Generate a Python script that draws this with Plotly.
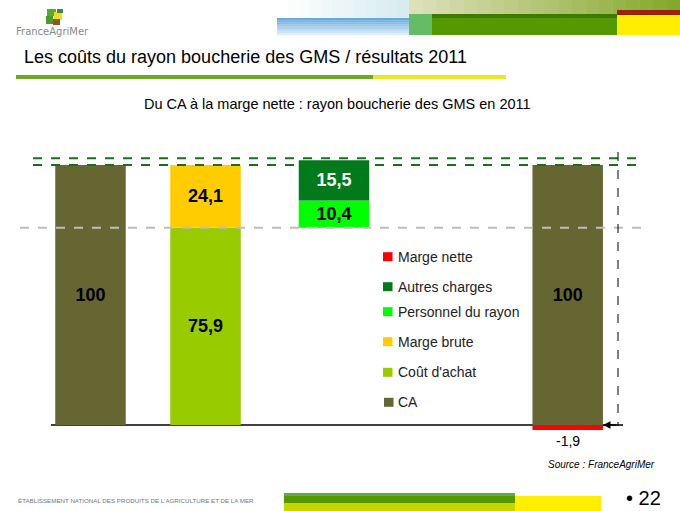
import plotly.graph_objects as go

W, H = 680, 511

# ---------------- data ----------------
slots = ["CA", "Achat", "Charges", "Légende", "Résultat"]   # 4th slot holds the legend

ca_x = ["CA", "Résultat"]
ca_y = [100, 100]
achat_x = ["Achat"]
achat_y = [75.9]
marge_brute_y = [24.1]
charges_x = ["Charges"]
personnel_y = [10.4]
autres_y = [15.5]
resultat_x = ["Résultat"]
marge_nette_y = [-1.9]

series_names = ["CA", "Coût d'achat", "Marge brute", "Personnel du rayon", "Autres charges", "Marge nette"]
series_colors = ["#666633", "#99CC00", "#FFCC00", "#00FF00", "#007A1A", "#FF0000"]

# ---------------- helpers (pixel -> paper) ----------------
def X(p):
    return p / W

def Y(p):
    return 1 - p / H

# bar geometry (category units)
BW = 0.591
OFF_ACHAT = -BW / 2 - 0.036
OFF_CHARGES = -BW / 2 + 0.041

fig = go.Figure()

label_font = dict(family="Liberation Sans, Arial, sans-serif", size=18, color="black")
common = dict(textposition="inside", insidetextanchor="middle", marker_line_width=0)

# invisible base for the charges bar (starts at purchase cost level)
fig.add_trace(go.Bar(x=charges_x, y=achat_y, width=BW, offset=OFF_CHARGES,
                     marker=dict(color="rgba(255,255,255,0)", line=dict(width=0)),
                     opacity=0, showlegend=False, hoverinfo="skip"))
fig.add_trace(go.Bar(x=ca_x, y=ca_y, name=series_names[0], marker_color=series_colors[0], width=BW,
                     texttemplate="<b>%{y:.0f}</b>", textfont=label_font, **common))
fig.add_trace(go.Bar(x=achat_x, y=achat_y, name=series_names[1], marker_color=series_colors[1],
                     width=BW, offset=OFF_ACHAT,
                     texttemplate="<b>%{y:.1f}</b>", textfont=label_font, **common))
fig.add_trace(go.Bar(x=achat_x, y=marge_brute_y, name=series_names[2], marker_color=series_colors[2],
                     width=BW, offset=OFF_ACHAT,
                     texttemplate="<b>%{y:.1f}</b>", textfont=label_font, **common))
fig.add_trace(go.Bar(x=charges_x, y=personnel_y, name=series_names[3], marker_color=series_colors[3],
                     width=BW, offset=OFF_CHARGES,
                     texttemplate="<b>%{y:.1f}</b>", textfont=label_font, **common))
fig.add_trace(go.Bar(x=charges_x, y=autres_y, name=series_names[4], marker_color=series_colors[4],
                     width=BW, offset=OFF_CHARGES,
                     texttemplate="<b>%{y:.1f}</b>", textfont=dict(label_font, color="white"), **common))
fig.add_trace(go.Bar(x=resultat_x, y=marge_nette_y, name=series_names[5], marker_color=series_colors[5],
                     width=BW, marker_line_width=0, textposition="none"))

# scale: zero at pixel 425, 100 at pixel 165
y0_px, y100_px = 425, 165
ppu = (y0_px - y100_px) / 100.0
y_top = y0_px / ppu
y_bot = -(H - y0_px) / ppu
# categories: first slot centre at 90.5 px, pitch 119.3 px
c0, pitch = 90.5, 119.3
x_left = (0 - c0) / pitch
x_right = (W - c0) / pitch

shapes = []
annotations = []

# ---------- reference lines ----------
ca_level = ca_y[0]
charges_top = achat_y[0] + personnel_y[0] + autres_y[0]
for lvl in [charges_top + 0.8, ca_level]:
    shapes.append(dict(type="line", xref="paper", yref="y", x0=X(33), x1=X(642), y0=lvl, y1=lvl,
                       line=dict(color="#17701A", width=2, dash="dash"), layer="above"))
shapes.append(dict(type="line", xref="paper", yref="y", x0=X(20), x1=X(642), y0=achat_y[0], y1=achat_y[0],
                   line=dict(color="#BDBDBD", width=2, dash="dash"), layer="above"))
# baseline
shapes.append(dict(type="line", xref="paper", yref="y", x0=X(51), x1=X(623), y0=0, y1=0,
                   line=dict(color="black", width=1.5), layer="below"))
# vertical dashed measure line
shapes.append(dict(type="line", xref="paper", yref="paper", x0=X(618), x1=X(618), y0=Y(152), y1=Y(426),
                   line=dict(color="black", width=1, dash="dash")))
annotations.append(dict(xref="paper", yref="y", x=X(603), y=0, ax=15, ay=0, axref="pixel", ayref="pixel",
                        showarrow=True, arrowhead=2, arrowsize=1, arrowwidth=1.5, arrowcolor="black", text=""))

# label for net margin
annotations.append(dict(xref="x", yref="y", x=resultat_x[0], y=marge_nette_y[0], yanchor="top", yshift=-1,
                        text=f"{marge_nette_y[0]:.1f}".replace(".", ","), showarrow=False,
                        font=dict(family="Liberation Sans, Arial, sans-serif", size=14, color="black")))

# ---------- manual legend ----------
legend_rows_px = [256.7, 286.7, 311.7, 341.7, 372.3, 402.3]
for i, (nm, col) in enumerate(zip(series_names[::-1], series_colors[::-1])):
    yc = legend_rows_px[i]
    sx = 384 if nm == "CA" else 383
    shapes.append(dict(type="rect", xref="paper", yref="paper", x0=X(sx), x1=X(sx + 9.5),
                       y0=Y(yc - 4.5), y1=Y(yc + 4.5), fillcolor=col, line=dict(width=0)))
    annotations.append(dict(xref="paper", yref="paper", x=X(396), y=Y(yc), xanchor="left", yanchor="middle",
                            text=nm, showarrow=False,
                            font=dict(family="Liberation Sans, Arial, sans-serif", size=14, color="#222")))

# ---------- slide decorations ----------
def lerp(c1, c2, t):
    return "rgb(%d,%d,%d)" % tuple(round(a + (b - a) * t) for a, b in zip(c1, c2))

def rect(x0, y0, x1, y1, col):
    shapes.append(dict(type="rect", xref="paper", yref="paper", x0=X(x0), x1=X(x1), y0=Y(y1), y1=Y(y0),
                       fillcolor=col, line=dict(width=0), layer="below"))

# header: faint area above blue band
n = 12
for k in range(n):
    xa = 277 + (409 - 277) * k / n
    xb = 277 + (409 - 277) * (k + 1) / n
    rect(xa, 0, xb + 0.5, 18, lerp((255, 255, 255), (215, 236, 238), k / (n - 1)))
# blue band vertical gradient
n = 8
for k in range(n):
    ya = 18 + 17 * k / n
    yb = 18 + 17 * (k + 1) / n
    rect(277, ya, 409, yb + 0.3, lerp((104, 170, 222), (222, 238, 248), k / (n - 1)))
# top olive strip horizontal gradient
n = 20
for k in range(n):
    xa = 409 + (680 - 409) * k / n
    xb = 409 + (680 - 409) * (k + 1) / n
    rect(xa, 0, xb + 0.5, 14, lerp((222, 224, 186), (132, 168, 44), k / (n - 1)))
rect(409, 14, 432, 35, "#66BB66")
rect(432, 14, 617, 18, "#3E7A00")
rect(432, 18, 617, 35, "#559900")
rect(617, 10, 680, 15, "#992211")
rect(617, 15, 680, 35, "#FFEE00")

# logo
rect(47, 9, 56, 16, "#55AA33")
rect(54, 12, 62, 20, "#EEDD22")
rect(46, 16, 53, 24, "#4C9A2A")
rect(53, 19, 60, 25, "#8A5A22")
rect(57, 9, 63, 13, "#3C8A3C")
annotations.append(dict(xref="paper", yref="paper", x=X(14), y=Y(31), xanchor="left", yanchor="middle",
                        text="FranceAgriMer", showarrow=False,
                        font=dict(family="DejaVu Sans, sans-serif", size=10, color="#8a8a8a")))

# title + underline
annotations.append(dict(xref="paper", yref="paper", x=X(22), y=Y(57), xanchor="left", yanchor="middle",
                        text="Les coûts du rayon boucherie des GMS / résultats 2011", showarrow=False,
                        font=dict(family="Liberation Sans, Arial, sans-serif", size=18, color="black")))
rect(16, 75, 373, 79, "#6AAA22")
rect(373, 75, 506, 79, "#EEE622")

# subtitle
annotations.append(dict(xref="paper", yref="paper", x=X(337), y=Y(104), xanchor="center", yanchor="middle",
                        text="Du CA à la marge nette : rayon boucherie des GMS en 2011", showarrow=False,
                        font=dict(family="Liberation Sans, Arial, sans-serif", size=14.5, color="black")))

# source
annotations.append(dict(xref="paper", yref="paper", x=X(657), y=Y(464), xanchor="right", yanchor="middle",
                        text="<i>Source : FranceAgriMer</i>", showarrow=False,
                        font=dict(family="Liberation Sans Narrow, Liberation Sans, Arial, sans-serif", size=10, color="black")))

# footer
annotations.append(dict(xref="paper", yref="paper", x=X(16), y=Y(500), xanchor="left", yanchor="middle",
                        text="ÉTABLISSEMENT NATIONAL DES PRODUITS DE L'AGRICULTURE ET DE LA MER", showarrow=False,
                        font=dict(family="Liberation Sans Narrow, Liberation Sans, Arial, sans-serif", size=6.2, color="#777")))
rect(284, 493, 515, 496, "#66AA44")
rect(284, 496, 515, 503, "#559900")
rect(284, 503, 515, 511, "#C8D400")
rect(515, 496, 601, 511, "#FFEE00")
annotations.append(dict(xref="paper", yref="paper", x=X(624), y=Y(511), xanchor="left", yanchor="bottom",
                        text="• 22", showarrow=False,
                        font=dict(family="Liberation Sans, Arial, sans-serif", size=20, color="black")))

fig.update_layout(
    width=W, height=H,
    margin=dict(l=0, r=0, t=0, b=0),
    paper_bgcolor="white", plot_bgcolor="white",
    barmode="relative",
    separators=", ",
    showlegend=False,
    xaxis=dict(type="category", categoryorder="array", categoryarray=slots, range=[x_left, x_right],
               visible=False, fixedrange=True),
    yaxis=dict(range=[y_bot, y_top], visible=False, showgrid=False, zeroline=False, fixedrange=True),
    shapes=shapes,
    annotations=annotations,
)

fig.write_html("out.html", config={"displayModeBar": False},
               post_script="document.body.style.margin='0';document.body.style.overflow='hidden';")
